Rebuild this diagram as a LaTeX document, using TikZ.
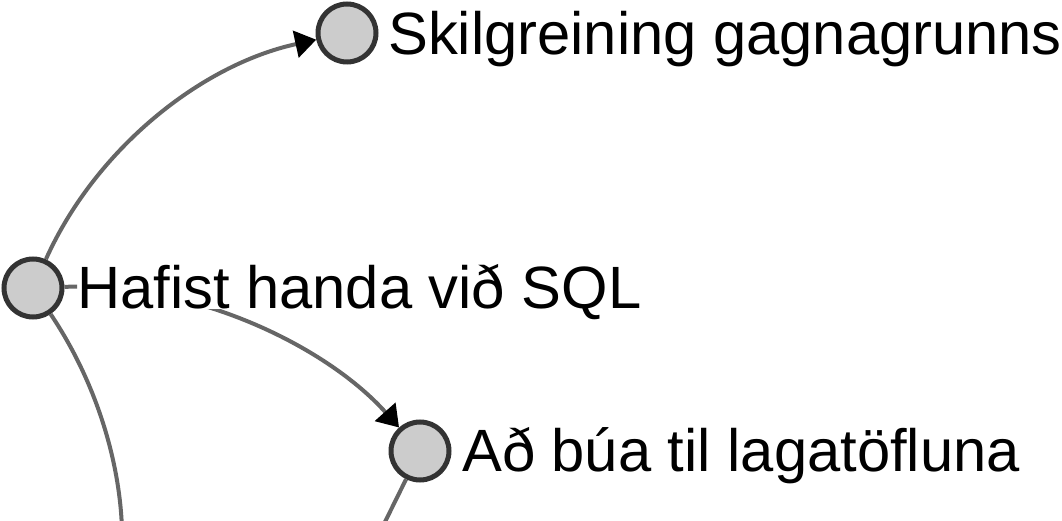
\documentclass[tikz,border=0pt]{standalone}
\usepackage{fontspec}
\setmainfont{Liberation Sans}
\usetikzlibrary{arrows.meta}
\definecolor{edgegray}{HTML}{666666}
\definecolor{ringgray}{HTML}{333333}
\definecolor{fillgray}{HTML}{CCCCCC}
\tikzset{
  vertex/.style={circle, draw=ringgray, fill=fillgray, line width=5pt, minimum size=58pt, inner sep=0pt},
  link/.style={draw=edgegray, line width=4pt},
  arr/.style={-{Triangle[length=21pt,width=27pt,color=black]}},
  lab/.style={anchor=base west, inner sep=0pt, font=\fontsize{59.7}{70}\selectfont},
}
\begin{document}
\begin{tikzpicture}[x=1pt,y=-1pt]
\useasboundingbox (0,0) rectangle (1062,521);
\node[vertex] (top) at (347,33) {};
\node[vertex] (left) at (33,288) {};
\node[vertex] (bot) at (420,451) {};
\node[lab] (ltop) at (388,55) {Skilgreining gagnagrunns};
\node[lab] (lleft) at (77,308) {Hafist handa við SQL};
\node[lab] (lbot) at (462,471) {Að búa til lagatöfluna};
\coordinate (offL) at (122,530);
\coordinate (offR) at (381,530);
% edges
\draw[link, arr] (left) .. controls (95,150) and (200,65) .. (top);
\draw[link] (left) .. controls (95,380) and (120,460) .. (offL);
\draw[link] (bot) -- (offR);
\begin{scope}[even odd rule]
  \clip (-10,-10) rectangle (1072,531)
    ([yshift=2pt]lleft.north west) rectangle ([yshift=-1pt]lleft.base east);
  \draw[link, arr] (left) .. controls (200,282) and (330,350) .. (bot);
\end{scope}
\end{tikzpicture}
\end{document}
